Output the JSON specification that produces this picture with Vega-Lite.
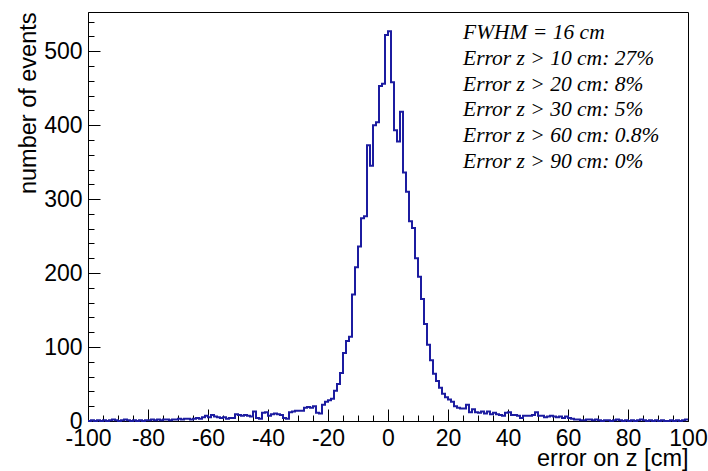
{
  "$schema": "https://vega.github.io/schema/vega-lite/v6.json",
  "width": 600,
  "height": 409,
  "autosize": "none",
  "padding": {"left": 88, "top": 12, "right": 20, "bottom": 50},
  "background": "white",
  "config": {
    "view": {"stroke": "black", "strokeWidth": 1},
    "axis": {
      "domainColor": "black", "tickColor": "black", "labelColor": "black", "titleColor": "black",
      "labelFont": "Liberation Sans", "titleFont": "Liberation Sans",
      "labelFontSize": 23, "titleFontSize": 23.5, "titleFontWeight": "normal",
      "grid": false, "labelFlush": false, "labelOverlap": false
    }
  },
  "layer": [
    {
      "data": {"values": [
        {"lo":-100,"hi":-99,"n":0},{"lo":-99,"hi":-98,"n":1},{"lo":-98,"hi":-97,"n":0},{"lo":-97,"hi":-96,"n":1},{"lo":-96,"hi":-95,"n":0},
        {"lo":-95,"hi":-94,"n":1},{"lo":-94,"hi":-93,"n":0},{"lo":-93,"hi":-92,"n":1},{"lo":-92,"hi":-91,"n":2},{"lo":-91,"hi":-90,"n":1},
        {"lo":-90,"hi":-89,"n":0},{"lo":-89,"hi":-88,"n":1},{"lo":-88,"hi":-87,"n":2},{"lo":-87,"hi":-86,"n":1},{"lo":-86,"hi":-85,"n":0},
        {"lo":-85,"hi":-84,"n":1},{"lo":-84,"hi":-83,"n":0},{"lo":-83,"hi":-82,"n":1},{"lo":-82,"hi":-81,"n":0},{"lo":-81,"hi":-80,"n":1},
        {"lo":-80,"hi":-79,"n":1},{"lo":-79,"hi":-78,"n":2},{"lo":-78,"hi":-77,"n":1},{"lo":-77,"hi":-76,"n":2},{"lo":-76,"hi":-75,"n":1},
        {"lo":-75,"hi":-74,"n":2},{"lo":-74,"hi":-73,"n":2},{"lo":-73,"hi":-72,"n":1},{"lo":-72,"hi":-71,"n":2},{"lo":-71,"hi":-70,"n":2},
        {"lo":-70,"hi":-69,"n":3},{"lo":-69,"hi":-68,"n":2},{"lo":-68,"hi":-67,"n":3},{"lo":-67,"hi":-66,"n":3},{"lo":-66,"hi":-65,"n":2},
        {"lo":-65,"hi":-64,"n":3},{"lo":-64,"hi":-63,"n":4},{"lo":-63,"hi":-62,"n":3},{"lo":-62,"hi":-61,"n":5},{"lo":-61,"hi":-60,"n":7},
        {"lo":-60,"hi":-59,"n":5},{"lo":-59,"hi":-58,"n":8},{"lo":-58,"hi":-57,"n":6},{"lo":-57,"hi":-56,"n":5},{"lo":-56,"hi":-55,"n":4},
        {"lo":-55,"hi":-54,"n":5},{"lo":-54,"hi":-53,"n":3},{"lo":-53,"hi":-52,"n":4},{"lo":-52,"hi":-51,"n":4},{"lo":-51,"hi":-50,"n":9},
        {"lo":-50,"hi":-49,"n":8},{"lo":-49,"hi":-48,"n":7},{"lo":-48,"hi":-47,"n":8},{"lo":-47,"hi":-46,"n":7},{"lo":-46,"hi":-45,"n":6},
        {"lo":-45,"hi":-44,"n":13},{"lo":-44,"hi":-43,"n":4},{"lo":-43,"hi":-42,"n":3},{"lo":-42,"hi":-41,"n":11},{"lo":-41,"hi":-40,"n":12},
        {"lo":-40,"hi":-39,"n":7},{"lo":-39,"hi":-38,"n":9},{"lo":-38,"hi":-37,"n":10},{"lo":-37,"hi":-36,"n":9},{"lo":-36,"hi":-35,"n":8},
        {"lo":-35,"hi":-34,"n":4},{"lo":-34,"hi":-33,"n":3},{"lo":-33,"hi":-32,"n":12},{"lo":-32,"hi":-31,"n":13},{"lo":-31,"hi":-30,"n":14},
        {"lo":-30,"hi":-29,"n":14},{"lo":-29,"hi":-28,"n":14},{"lo":-28,"hi":-27,"n":18},{"lo":-27,"hi":-26,"n":19},{"lo":-26,"hi":-25,"n":18},
        {"lo":-25,"hi":-24,"n":20},{"lo":-24,"hi":-23,"n":11},{"lo":-23,"hi":-22,"n":10},{"lo":-22,"hi":-21,"n":22},{"lo":-21,"hi":-20,"n":26},
        {"lo":-20,"hi":-19,"n":28},{"lo":-19,"hi":-18,"n":30},{"lo":-18,"hi":-17,"n":41},{"lo":-17,"hi":-16,"n":50},{"lo":-16,"hi":-15,"n":65},
        {"lo":-15,"hi":-14,"n":92},{"lo":-14,"hi":-13,"n":108},{"lo":-13,"hi":-12,"n":114},{"lo":-12,"hi":-11,"n":171},{"lo":-11,"hi":-10,"n":208},
        {"lo":-10,"hi":-9,"n":236},{"lo":-9,"hi":-8,"n":274},{"lo":-8,"hi":-7,"n":277},{"lo":-7,"hi":-6,"n":373},{"lo":-6,"hi":-5,"n":345},
        {"lo":-5,"hi":-4,"n":400},{"lo":-4,"hi":-3,"n":404},{"lo":-3,"hi":-2,"n":453},{"lo":-2,"hi":-1,"n":456},{"lo":-1,"hi":0,"n":522},
        {"lo":0,"hi":1,"n":527},{"lo":1,"hi":2,"n":458},{"lo":2,"hi":3,"n":393},{"lo":3,"hi":4,"n":378},{"lo":4,"hi":5,"n":418},
        {"lo":5,"hi":6,"n":336},{"lo":6,"hi":7,"n":310},{"lo":7,"hi":8,"n":270},{"lo":8,"hi":9,"n":261},{"lo":9,"hi":10,"n":220},
        {"lo":10,"hi":11,"n":195},{"lo":11,"hi":12,"n":165},{"lo":12,"hi":13,"n":131},{"lo":13,"hi":14,"n":103},{"lo":14,"hi":15,"n":82},
        {"lo":15,"hi":16,"n":64},{"lo":16,"hi":17,"n":54},{"lo":17,"hi":18,"n":45},{"lo":18,"hi":19,"n":37},{"lo":19,"hi":20,"n":32},
        {"lo":20,"hi":21,"n":29},{"lo":21,"hi":22,"n":26},{"lo":22,"hi":23,"n":20},{"lo":23,"hi":24,"n":18},{"lo":24,"hi":25,"n":17},
        {"lo":25,"hi":26,"n":17},{"lo":26,"hi":27,"n":22},{"lo":27,"hi":28,"n":12},{"lo":28,"hi":29,"n":16},{"lo":29,"hi":30,"n":12},
        {"lo":30,"hi":31,"n":11},{"lo":31,"hi":32,"n":13},{"lo":32,"hi":33,"n":10},{"lo":33,"hi":34,"n":13},{"lo":34,"hi":35,"n":9},
        {"lo":35,"hi":36,"n":11},{"lo":36,"hi":37,"n":9},{"lo":37,"hi":38,"n":8},{"lo":38,"hi":39,"n":7},{"lo":39,"hi":40,"n":11},
        {"lo":40,"hi":41,"n":12},{"lo":41,"hi":42,"n":8},{"lo":42,"hi":43,"n":8},{"lo":43,"hi":44,"n":7},{"lo":44,"hi":45,"n":4},
        {"lo":45,"hi":46,"n":7},{"lo":46,"hi":47,"n":7},{"lo":47,"hi":48,"n":7},{"lo":48,"hi":49,"n":8},{"lo":49,"hi":50,"n":12},
        {"lo":50,"hi":51,"n":7},{"lo":51,"hi":52,"n":7},{"lo":52,"hi":53,"n":5},{"lo":53,"hi":54,"n":6},{"lo":54,"hi":55,"n":7},
        {"lo":55,"hi":56,"n":6},{"lo":56,"hi":57,"n":5},{"lo":57,"hi":58,"n":6},{"lo":58,"hi":59,"n":4},{"lo":59,"hi":60,"n":6},
        {"lo":60,"hi":61,"n":4},{"lo":61,"hi":62,"n":3},{"lo":62,"hi":63,"n":2},{"lo":63,"hi":64,"n":2},{"lo":64,"hi":65,"n":1},
        {"lo":65,"hi":66,"n":1},{"lo":66,"hi":67,"n":2},{"lo":67,"hi":68,"n":2},{"lo":68,"hi":69,"n":1},{"lo":69,"hi":70,"n":2},
        {"lo":70,"hi":71,"n":1},{"lo":71,"hi":72,"n":0},{"lo":72,"hi":73,"n":1},{"lo":73,"hi":74,"n":1},{"lo":74,"hi":75,"n":0},
        {"lo":75,"hi":76,"n":1},{"lo":76,"hi":77,"n":2},{"lo":77,"hi":78,"n":1},{"lo":78,"hi":79,"n":0},{"lo":79,"hi":80,"n":1},
        {"lo":80,"hi":81,"n":0},{"lo":81,"hi":82,"n":1},{"lo":82,"hi":83,"n":0},{"lo":83,"hi":84,"n":1},{"lo":84,"hi":85,"n":2},
        {"lo":85,"hi":86,"n":1},{"lo":86,"hi":87,"n":0},{"lo":87,"hi":88,"n":1},{"lo":88,"hi":89,"n":0},{"lo":89,"hi":90,"n":1},
        {"lo":90,"hi":91,"n":0},{"lo":91,"hi":92,"n":1},{"lo":92,"hi":93,"n":0},{"lo":93,"hi":94,"n":0},{"lo":94,"hi":95,"n":1},
        {"lo":95,"hi":96,"n":0},{"lo":96,"hi":97,"n":1},{"lo":97,"hi":98,"n":0},{"lo":98,"hi":99,"n":1},{"lo":99,"hi":100,"n":2}
      ]},
      "transform": [{"fold": ["lo", "hi"], "as": ["edge", "z"]}],
      "mark": {"type": "line", "color": "#1c1ca0", "strokeWidth": 2, "strokeJoin": "miter"},
      "encoding": {
        "x": {"field": "z", "type": "quantitative",
              "scale": {"domain": [-100, 100], "nice": false, "zero": false},
              "axis": {"orient": "bottom", "values": [-100,-80,-60,-40,-20,0,20,40,60,80,100],
                       "labelExpr": "datum.value + ''",
                       "tickSize": -12, "labelPadding": 18, "title": "error on z [cm]",
                       "titleAnchor": "end", "titlePadding": -4}},
        "y": {"field": "n", "type": "quantitative",
              "scale": {"domain": [0, 553], "nice": false, "zero": true},
              "axis": {"orient": "left", "values": [0,100,200,300,400,500],
                       "tickSize": -12, "labelPadding": 18, "title": "number of events",
                       "titleAnchor": "end", "titlePadding": 3}},
        "order": [{"field": "z", "type": "quantitative"}, {"field": "edge", "type": "nominal"}]
      }
    },
    {
      "data": {"values": [{}]},
      "mark": {"type": "text", "font": "Liberation Serif", "fontStyle": "italic", "fontSize": 21.5,
               "align": "left", "baseline": "alphabetic", "lineHeight": 25.7, "color": "black"},
      "encoding": {
        "x": {"datum": 25, "type": "quantitative",
              "axis": {"orient": "bottom", "values": [-95,-90,-85,-75,-70,-65,-55,-50,-45,-35,-30,-25,-15,-10,-5,5,10,15,25,30,35,45,50,55,65,70,75,85,90,95],
                       "tickSize": -6, "labels": false, "domain": false, "title": null}},
        "y": {"datum": 516, "type": "quantitative",
              "axis": {"orient": "left", "values": [20,40,60,80,120,140,160,180,220,240,260,280,320,340,360,380,420,440,460,480,520,540],
                       "tickSize": -6, "labels": false, "domain": false, "title": null}},
        "text": {"value": ["FWHM = 16 cm", "Error z > 10 cm: 27%", "Error z > 20 cm: 8%", "Error z > 30 cm: 5%", "Error z > 60 cm: 0.8%", "Error z > 90 cm: 0%"]}
      }
    }
  ],
  "resolve": {"axis": {"x": "independent", "y": "independent"}}
}
